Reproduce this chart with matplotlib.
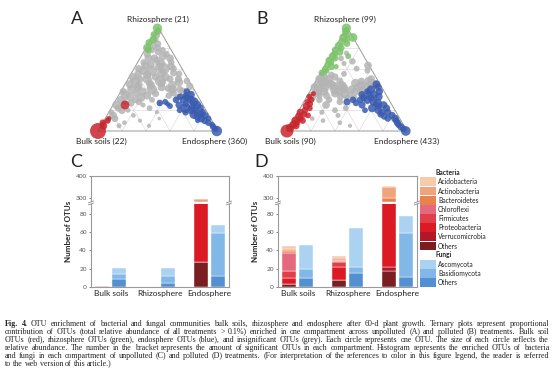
import numpy as np
import matplotlib
matplotlib.use('Agg')
import matplotlib.pyplot as plt
from matplotlib.patches import Rectangle

W, H = 554, 371

# ---------------- ternary data: (rhizosphere fraction, endosphere fraction, size)
a_grey = [(0.10,0.03,10),(0.15,0.05,14),(0.18,0.02,8),(0.22,0.06,12),(0.25,0.03,18),(0.28,0.08,10),
          (0.30,0.04,14),(0.33,0.10,16),(0.35,0.05,20),(0.38,0.02,12),(0.40,0.08,18),(0.42,0.12,14),
          (0.45,0.04,16),(0.48,0.07,22),(0.50,0.10,12),(0.52,0.03,16),(0.55,0.06,14),(0.58,0.09,18),
          (0.60,0.04,12),(0.63,0.08,16),(0.66,0.05,10),(0.70,0.07,14),(0.74,0.04,12),(0.78,0.06,10),
          (0.82,0.05,12),(0.88,0.04,8),(0.92,0.03,10),
          (0.38,0.18,16),(0.40,0.25,24),(0.42,0.32,14),(0.44,0.40,18),(0.40,0.48,12),(0.46,0.20,14),
          (0.48,0.28,28),(0.50,0.35,12),(0.47,0.44,16),(0.52,0.22,14),(0.36,0.30,12),(0.34,0.42,10),
          (0.38,0.52,14),(0.43,0.55,12),(0.35,0.58,16),(0.32,0.60,10),(0.30,0.64,12),(0.44,0.12,14),
          (0.50,0.16,20),(0.36,0.14,12),
          (0.58,0.16,24),(0.60,0.25,30),(0.62,0.30,14),(0.65,0.20,18),(0.68,0.15,12),(0.72,0.18,16),
          (0.56,0.35,12),(0.64,0.12,14),(0.76,0.12,10),(0.70,0.25,14),(0.56,0.25,20),(0.80,0.10,10),
          (0.12,0.08,12),(0.20,0.10,14),(0.27,0.14,12),(0.32,0.20,16),(0.30,0.16,10),(0.34,0.24,14),
          (0.44,0.22,16),(0.46,0.30,14),(0.41,0.38,12),(0.37,0.44,14),(0.33,0.50,10),(0.40,0.42,16),
          (0.52,0.30,18),(0.54,0.14,16),(0.60,0.33,10),(0.66,0.28,10),(0.70,0.12,14),(0.74,0.20,10),
          (0.78,0.15,8),(0.84,0.08,10),(0.62,0.20,16),(0.55,0.40,10),(0.48,0.50,10),(0.50,0.42,12),
          (0.20,0.15,6),(0.15,0.22,5),(0.10,0.30,4),(0.22,0.32,8),(0.08,0.18,5),(0.25,0.25,6),
          (0.18,0.40,4),(0.28,0.20,10),(0.05,0.40,4),(0.12,0.45,3),(0.26,0.38,5),(0.05,0.15,6),
          (0.30,0.30,8)]
a_blue = [(0.38,0.55,10),(0.35,0.60,14),(0.32,0.58,12),(0.30,0.50,10),(0.28,0.42,8),(0.27,0.38,10),
          (0.30,0.62,16),(0.28,0.66,20),(0.25,0.55,12),(0.25,0.70,18),(0.22,0.62,24),(0.22,0.74,14),
          (0.20,0.68,16),(0.18,0.78,12),(0.16,0.72,20),(0.15,0.82,10),(0.12,0.80,14),(0.12,0.86,8),
          (0.10,0.84,12),(0.08,0.88,10),(0.06,0.92,8),(0.04,0.94,10),(0.02,0.97,8),(0.24,0.48,8),
          (0.33,0.52,10),(0.20,0.58,8),(0.26,0.45,6),(0.18,0.64,10),(0.14,0.76,16),(0.10,0.78,6),
          (0.30,0.56,12),(0.26,0.60,10),(0.23,0.67,14),(0.19,0.72,10),(0.16,0.78,12),(0.34,0.56,8),
          (0.00,0.99,26)]
a_green = [(0.99,0.00,20),(0.96,0.02,12),(0.93,0.00,10),(0.88,0.02,14),(0.85,0.00,12),(0.80,0.01,16),
           (0.78,0.03,10)]
a_red = [(0.00,0.00,60),(0.05,0.02,14),(0.10,0.03,8),(0.08,0.00,10),(0.12,0.03,6),(0.25,0.10,18)]

b_grey = [(0.50,0.02,16),(0.48,0.05,18),(0.46,0.08,20),(0.44,0.03,14),(0.42,0.10,22),(0.40,0.06,18),
          (0.38,0.12,16),(0.45,0.14,20),(0.43,0.18,18),(0.40,0.20,24),(0.38,0.25,16),(0.36,0.30,20),
          (0.42,0.26,18),(0.40,0.34,16),(0.38,0.38,14),(0.36,0.22,14),(0.34,0.16,12),(0.33,0.28,12),
          (0.44,0.40,20),(0.42,0.46,24),(0.46,0.48,18),(0.45,0.52,14),(0.48,0.44,16),(0.35,0.35,10),
          (0.32,0.40,10),(0.52,0.05,14),(0.55,0.03,12),(0.36,0.08,14),(0.32,0.05,12),(0.30,0.12,10),
          (0.34,0.04,14),(0.38,0.06,12),(0.42,0.02,16),(0.46,0.12,14),(0.48,0.20,12),(0.44,0.24,16),
          (0.40,0.28,14),(0.46,0.34,18),(0.42,0.38,14),(0.48,0.38,12),(0.50,0.45,14),(0.40,0.42,10),
          (0.36,0.44,10),(0.34,0.10,10),(0.50,0.10,14),(0.52,0.14,12),(0.30,0.20,10),(0.32,0.34,8),
          (0.54,0.10,10),(0.44,0.48,16),
          (0.67,0.21,10),(0.63,0.36,14),(0.70,0.10,8),(0.60,0.28,8),(0.75,0.12,6),(0.55,0.20,8),
          (0.65,0.15,6),(0.58,0.38,8),
          (0.20,0.30,8),(0.15,0.35,6),(0.10,0.25,5),(0.25,0.20,14),(0.18,0.20,6),(0.08,0.40,5),
          (0.22,0.38,8),(0.28,0.30,10),(0.12,0.15,5),(0.05,0.50,4)]
b_blue = [(0.45,0.52,14),(0.42,0.55,12),(0.40,0.50,16),(0.38,0.58,12),(0.35,0.55,18),(0.33,0.60,14),
          (0.32,0.48,12),(0.30,0.40,10),(0.28,0.36,12),(0.30,0.52,16),(0.27,0.62,18),(0.25,0.68,14),
          (0.25,0.50,12),(0.22,0.60,16),(0.22,0.72,12),(0.20,0.66,14),(0.18,0.75,12),(0.16,0.70,10),
          (0.15,0.80,12),(0.12,0.78,10),(0.12,0.84,14),(0.10,0.86,10),(0.08,0.88,12),(0.06,0.90,10),
          (0.04,0.93,12),(0.02,0.96,10),(0.00,0.99,22),(0.27,0.44,10),(0.35,0.45,12),(0.20,0.55,8),
          (0.38,0.48,10),(0.14,0.74,10),(0.32,0.54,12),(0.28,0.58,14),(0.24,0.64,12),(0.30,0.46,10),
          (0.36,0.50,10),(0.18,0.70,12)]
b_green = [(0.99,0.00,20),(0.96,0.01,14),(0.93,0.03,12),(0.90,0.02,16),(0.88,0.06,10),(0.86,0.03,12),
           (0.84,0.08,10),(0.82,0.02,14),(0.80,0.05,12),(0.78,0.01,10),(0.76,0.06,12),(0.74,0.03,10),
           (0.72,0.02,14),(0.70,0.05,10),(0.68,0.01,12),(0.66,0.04,8),(0.64,0.02,10),(0.62,0.06,12),
           (0.60,0.02,10),(0.58,0.04,8),(0.56,0.01,10),(0.90,0.10,18),(0.72,0.15,8),(0.62,0.10,6)]
b_red = [(0.00,0.00,40),(0.03,0.01,16),(0.06,0.02,14),(0.08,0.04,12),(0.10,0.02,16),(0.12,0.05,10),
         (0.14,0.03,14),(0.16,0.06,10),(0.18,0.02,12),(0.20,0.05,10),(0.22,0.08,8),(0.24,0.04,12),
         (0.26,0.06,10),(0.28,0.03,8),(0.30,0.05,10),(0.33,0.02,8),(0.36,0.04,6),(0.15,0.10,8),
         (0.10,0.08,10),(0.05,0.05,12)]

# ---------------- bar data
compartments = ['Bulk soils', 'Rhizosphere', 'Endosphere']
bact_names = ['Acidobacteria', 'Actinobacteria', 'Bacteroidetes', 'Chloroflexi', 'Firmicutes',
              'Proteobacteria', 'Verrucomicrobia', 'Others']
fungi_names = ['Ascomycota', 'Basidiomycota', 'Others']
bact_colors = ['#f7cba9', '#f0a47c', '#ea8250', '#e4687e', '#e23e4a', '#dc1a24', '#b0182a', '#7a1e22']
fungi_colors = ['#acd2f2', '#82b8e8', '#5290d2']

# rows follow bact_names, columns follow compartments
c_bacteria = [[0, 0, 0], [0, 0, 12], [0, 0, 0], [0, 0, 0], [0, 0, 0],
              [1, 0, 256], [0, 0, 0], [0, 0, 27]]
c_fungi = [[7, 9, 9], [5, 8, 47], [9, 4, 12]]
d_bacteria = [[3, 2, 4], [3, 2, 52], [2, 1, 17], [19, 2, 0], [8, 5, 0],
              [7, 14, 261], [0, 0, 5], [3, 8, 17]]
d_fungi = [[26, 43, 19], [10, 7, 48], [10, 15, 11]]

caption = [
    "Fig. 4. OTU enrichment of bacterial and fungal communities bulk soils, rhizosphere and endosphere after 60-d plant growth. Ternary plots represent proportional",
    "contribution of OTUs (total relative abundance of all treatments > 0.1%) enriched in one compartment across unpolluted (A) and polluted (B) treatments. Bulk soil",
    "OTUs (red), rhizosphere OTUs (green), endosphere OTUs (blue), and insignificant OTUs (grey). Each circle represents one OTU. The size of each circle reflects the",
    "relative abundance. The number in the bracket represents the amount of significant OTUs in each compartment. Histogram represents the enriched OTUs of bacteria",
    "and fungi in each compartment of unpolluted (C) and polluted (D) treatments. (For interpretation of the references to color in this figure legend, the reader is referred",
    "to the web version of this article.)",
]

plt.rcParams['font.family'] = ['Lato', 'DejaVu Sans']
fig = plt.figure(figsize=(W / 100, H / 100), dpi=100)


def px_axes(x0, y0, x1, y1):
    return fig.add_axes([x0 / W, 1 - y1 / H, (x1 - x0) / W, (y1 - y0) / H])


def tern(r, e):
    r = np.asarray(r, float)
    e = np.asarray(e, float)
    return e + r / 2, r * np.sqrt(3) / 2


def draw_ternary(ax, groups):
    ax.set_xlim(-0.05, 1.05)
    ax.set_ylim(-0.05, 0.92)
    ax.axis('off')
    for i in range(1, 5):
        f = i / 5
        for (r0, e0), (r1, e1) in [((f, 0), (f, 1 - f)), ((0, f), (1 - f, f)), ((0, 1 - f), (1 - f, 0))]:
            x, y = tern([r0, r1], [e0, e1])
            ax.plot(x, y, color='#d4d4d4', lw=0.4, zorder=1)
    x, y = tern([0, 0, 1, 0], [0, 1, 0, 0])
    ax.plot(x, y, color='#9a9a9a', lw=0.7, zorder=1)
    for pts, col in groups:
        r, e, s = np.array(pts).T
        x, y = tern(r, e)
        ax.scatter(x, y, s=s * 2.2, color=col, linewidths=0, alpha=0.85, zorder=2, clip_on=False)


grey, green, red, blue = '#b4b4b4', '#7cc36a', '#c8262e', '#3a5cb0'
axA = px_axes(92, 20.6, 224, 137)
draw_ternary(axA, [(a_grey, grey), (a_blue, blue), (a_green, green), (a_red, red)])
axB = px_axes(281, 20.6, 413, 137)
draw_ternary(axB, [(b_grey, grey), (b_blue, blue), (b_green, green), (b_red, red)])

lab = dict(fontsize=6, color='#222222', ha='center', va='center')
fig.text(158 / W, 1 - 19 / H, 'Rhizosphere (21)', **lab)
fig.text(101 / W, 1 - 141 / H, 'Bulk soils (22)', **lab)
fig.text(215 / W, 1 - 141 / H, 'Endosphere (360)', **lab)
fig.text(345 / W, 1 - 19 / H, 'Rhizosphere (99)', **lab)
fig.text(290 / W, 1 - 141 / H, 'Bulk soils (90)', **lab)
fig.text(407 / W, 1 - 141 / H, 'Endosphere (433)', **lab)
for letter, x, y in [('A', 71, 19), ('B', 256, 19), ('C', 70, 162), ('D', 254, 162)]:
    fig.text(x / W, 1 - y / H, letter, fontsize=13, color='#222222', ha='left', va='center')

# ---------------- broken y scale
LO, U_HI, HI, K = 91.0, 93.2, 282.0, 0.241


def fwd(y):
    y = np.asarray(y, float)
    return np.where(y <= LO, y, np.where(y <= HI, LO + (y - LO) * (U_HI - LO) / (HI - LO),
                                         U_HI + (y - HI) * K))


def inv(u):
    u = np.asarray(u, float)
    return np.where(u <= LO, u, np.where(u <= U_HI, LO + (u - LO) * (HI - LO) / (U_HI - LO),
                                         HI + (u - U_HI) / K))


def draw_bars(ax, bact, fungi, ylabel_x):
    x = np.arange(len(compartments))
    bottom = np.zeros(3)
    for vals, col in reversed(list(zip(bact, bact_colors))):
        vals = np.array(vals, float)
        ax.bar(x - 0.17, vals, 0.28, bottom=bottom, color=col, edgecolor='white', linewidth=0.3, zorder=2)
        bottom += vals
    bottom = np.zeros(3)
    for vals, col in reversed(list(zip(fungi, fungi_colors))):
        vals = np.array(vals, float)
        ax.bar(x + 0.17, vals, 0.28, bottom=bottom, color=col, edgecolor='white', linewidth=0.3, zorder=2)
        bottom += vals
    ax.set_yscale('function', functions=(fwd, inv))
    ax.set_ylim(0, 400)
    ax.set_xlim(-0.4, 2.4)
    ax.set_yticks([0, 20, 40, 60, 80, 300, 400])
    ax.set_xticks(x)
    ax.set_xticklabels(compartments)
    ax.yaxis.set_minor_locator(matplotlib.ticker.NullLocator())
    ax.tick_params(axis='y', labelsize=4.6, colors='#555555', length=1.5, width=0.5, pad=1.5)
    ax.tick_params(axis='x', labelsize=6, colors='#222222', length=0, pad=2.5)
    for sp in ax.spines.values():
        sp.set_color('#9a9a9a')
        sp.set_linewidth(0.8)
    ax.set_ylabel('Number of OTUs', fontsize=5.8, fontweight='bold', color='#222222')
    ax.yaxis.set_label_coords(ylabel_x, 0.5)
    top = float(fwd(400))
    f0, f1 = LO / top, U_HI / top
    ax.add_patch(Rectangle((-0.03, f0), 1.06, f1 - f0, transform=ax.transAxes, color='white',
                           clip_on=False, zorder=5, lw=0))
    for xs in (0, 1):
        for fy in (f0, f1):
            ax.plot([xs - 0.018, xs + 0.018], [fy - 0.008, fy + 0.008], transform=ax.transAxes,
                    color='#8a8a8a', lw=0.6, clip_on=False, zorder=6)


axC = px_axes(91, 176, 229, 287)
draw_bars(axC, c_bacteria, c_fungi, -0.138)
axD = px_axes(278, 176, 417, 287)
draw_bars(axD, d_bacteria, d_fungi, -0.137)

# ---------------- legend for D
axL = px_axes(418, 165, 500, 290)
axL.set_xlim(418, 500)
axL.set_ylim(290, 165)
axL.axis('off')
leg_size = 4.8
axL.text(436, 172.7, 'Bacteria', fontsize=leg_size, fontweight='bold', va='center', color='#222222')
row_y = [181.7, 191, 200.2, 209.3, 218.4, 227.6, 236.8, 246]
for name, col, y in zip(bact_names, bact_colors, row_y):
    axL.add_patch(Rectangle((420, y - 4.4), 16, 8.8, color=col, lw=0))
    axL.text(438, y, name, fontsize=leg_size, va='center', color='#222222')
axL.text(436, 254.5, 'Fungi', fontsize=leg_size, fontweight='bold', va='center', color='#222222')
row_y = [264.3, 273.5, 282.7]
for name, col, y in zip(fungi_names, fungi_colors, row_y):
    axL.add_patch(Rectangle((420, y - 4.4), 16, 8.8, color=col, lw=0))
    axL.text(438, y, name, fontsize=leg_size, va='center', color='#222222')

# ---------------- justified caption, one text per word
renderer = fig.canvas.get_renderer()
line_y = [323.7, 331.8, 339.9, 348.1, 356.2, 364.3]
x0, x1 = 5.0, 549.0
cap_size = 5.8
for k, (line, y) in enumerate(zip(caption, line_y)):
    words = line.split(' ')
    base = round(y + 2.2)
    texts = []
    for j, w in enumerate(words):
        bold = k == 0 and j < 2
        t = fig.text(0, (H - base) / H, w, fontsize=cap_size, family='Liberation Serif',
                     fontweight='bold' if bold else 'normal', va='baseline', color='#222222')
        # keep the glyphs of every word on one pixel baseline
        _, h, d = renderer.get_text_width_height_descent(w, t.get_fontproperties(), ismath=False)
        err = round(d) - (np.floor(h) - np.floor(h - d))
        t.set_y((H - (base - err)) / H)
        texts.append(t)
    widths = [t.get_window_extent(renderer).width for t in texts]
    if k == len(caption) - 1:
        gap = 1.9
    else:
        gap = max((x1 - x0 - sum(widths)) / (len(words) - 1), 1.3)
    x = x0
    for t, w in zip(texts, widths):
        t.set_x(x / W)
        x += w + gap

fig.savefig('out.png', dpi=100)
